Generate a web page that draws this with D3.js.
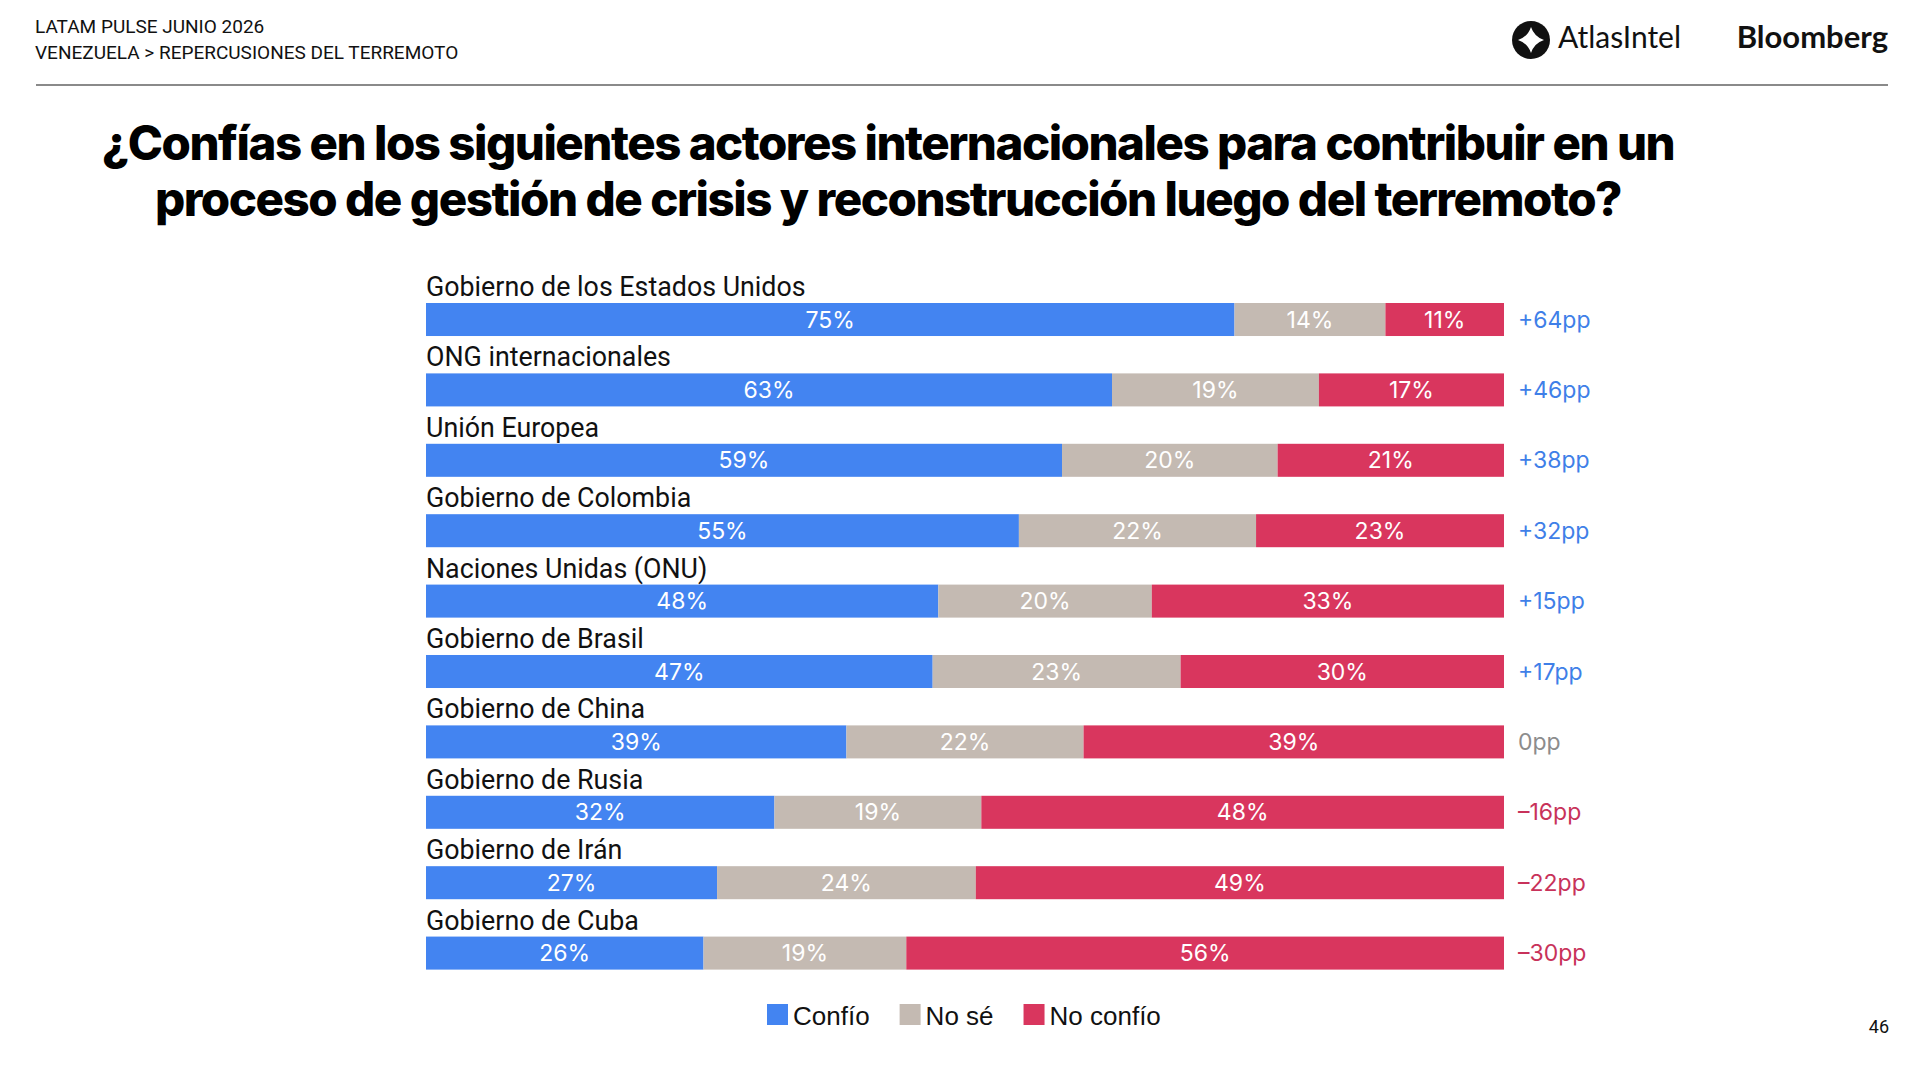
<!DOCTYPE html>
<html>
<head>
<meta charset="utf-8">
<script src="https://cdn.jsdelivr.net/npm/d3@7"></script>
<style>
  body { margin: 0; background: #fff; }
  svg { display: block; }
</style>
</head>
<body>
<div id="wrapper"></div>
<script>
// 1. Data

const categories = [
  "Gobierno de los Estados Unidos",
  "ONG internacionales",
  "Unión Europea",
  "Gobierno de Colombia",
  "Naciones Unidas (ONU)",
  "Gobierno de Brasil",
  "Gobierno de China",
  "Gobierno de Rusia",
  "Gobierno de Irán",
  "Gobierno de Cuba",
]
const confio = [75, 63, 59, 55, 48, 47, 39, 32, 27, 26]
const noSe = [14, 19, 20, 22, 20, 23, 22, 19, 24, 19]
const noConfio = [11, 17, 21, 23, 33, 30, 39, 48, 49, 56]
const netPP = [64, 46, 38, 32, 15, 17, 0, -16, -22, -30]

const seriesNames = ["Confío", "No sé", "No confío"]
const seriesColors = ["#4384f1", "#c4bab2", "#d9365e"]

const titleLines = [
  "¿Confías en los siguientes actores internacionales para contribuir en un",
  "proceso de gestión de crisis y reconstrucción luego del terremoto?",
]

// 2. Dimensions

const dimensions = {
  width: 1920,
  height: 1070,
  barLeft: 426,
  barRight: 1504,
  barTop: 303,
  rowStep: 70.4,
  barHeight: 33,
}

// 3. Canvas

const svg = d3.select("#wrapper")
  .append("svg")
    .attr("width", dimensions.width)
    .attr("height", dimensions.height)

// header
const header = svg.append("g")
  .style("font-family", "Roboto, 'Liberation Sans', sans-serif")
  .style("fill", "#111")
header.append("text")
  .attr("x", 35).attr("y", 33)
  .style("font-size", "19px")
  .text("LATAM PULSE JUNIO 2026")
header.append("text")
  .attr("x", 35).attr("y", 59)
  .style("font-size", "19px")
  .text("VENEZUELA > REPERCUSIONES DEL TERREMOTO")

svg.append("line")
  .attr("x1", 36).attr("x2", 1888)
  .attr("y1", 85).attr("y2", 85)
  .attr("stroke", "#8a8a8a")
  .attr("stroke-width", 2)

// AtlasIntel logo
const logo = svg.append("g").attr("transform", "translate(1531, 40)")
logo.append("circle").attr("r", 19).attr("fill", "#111")
const s = 13, k = 3.2
logo.append("path")
  .attr("fill", "#fff")
  .attr("d", `M0,${-s} Q${k},${-k} ${s},0 Q${k},${k} 0,${s} Q${-k},${k} ${-s},0 Q${-k},${-k} 0,${-s} Z`)
svg.append("text")
  .attr("x", 1558).attr("y", 48)
  .style("font-family", "Lato, 'Open Sans', sans-serif")
  .style("font-size", "30px")
  .style("fill", "#111")
  .text("AtlasIntel")
svg.append("text")
  .attr("x", 1888).attr("y", 48)
  .attr("text-anchor", "end")
  .style("font-family", "Lato, 'Open Sans', sans-serif")
  .style("font-weight", 700)
  .style("font-size", "31px")
  .style("fill", "#111")
  .text("Bloomberg")

// title
const titleWidths = [1582, 1475]
titleLines.forEach((line, i) => {
  const t = svg.append("text")
    .attr("x", 888)
    .attr("y", 160 + i * 56)
    .attr("text-anchor", "middle")
    .style("font-family", "Inter, Roboto, sans-serif")
    .style("font-weight", 800)
    .style("letter-spacing", "-1.5px")
    .style("font-size", "52px")
    .style("fill", "#000")
    .text(line)
  const w = t.node().getComputedTextLength()
  t.style("font-size", `${52 * titleWidths[i] / w}px`)
})

// 4. Scales

const y = d3.scaleBand()
  .domain(categories)
  .range([dimensions.barTop, dimensions.barTop + 9 * dimensions.rowStep + dimensions.barHeight])
  .paddingInner(0.531)
  .paddingOuter(0)

const rows = categories.map((name, i) => {
  const vals = [confio[i], noSe[i], noConfio[i]]
  const total = d3.sum(vals)
  const x = d3.scaleLinear()
    .domain([0, total])
    .range([dimensions.barLeft, dimensions.barRight])
  let acc = 0
  const segs = vals.map((v, j) => {
    const seg = { value: v, x0: x(acc), x1: x(acc + v), color: seriesColors[j] }
    acc += v
    return seg
  })
  return { name, segs, net: netPP[i] }
})

// 5. Draw data

const chart = svg.append("g")

const rowGroups = chart.selectAll("g.row")
  .data(rows)
  .join("g")
    .attr("class", "row")
    .attr("transform", d => `translate(0, ${y(d.name)})`)

rowGroups.append("text")
  .attr("x", dimensions.barLeft)
  .attr("y", -7)
  .style("font-family", "Roboto, sans-serif")
  .style("font-size", "26.8px")
  .style("fill", "#111")
  .text(d => d.name)

rowGroups.selectAll("rect")
  .data(d => d.segs)
  .join("rect")
    .attr("x", d => d.x0)
    .attr("width", d => d.x1 - d.x0)
    .attr("height", y.bandwidth())
    .attr("fill", d => d.color)

rowGroups.selectAll("text.pct")
  .data(d => d.segs)
  .join("text")
    .attr("class", "pct")
    .attr("x", d => (d.x0 + d.x1) / 2)
    .attr("y", y.bandwidth() / 2)
    .attr("dy", "0.35em")
    .attr("text-anchor", "middle")
    .style("font-family", "Inter, Roboto, sans-serif")
    .style("font-size", "23px")
    .style("fill", "#fff")
    .text(d => `${d.value}%`)

rowGroups.append("text")
  .attr("x", dimensions.barRight + 14)
  .attr("y", y.bandwidth() / 2)
  .attr("dy", "0.35em")
  .style("font-family", "Inter, Lato, sans-serif")
  .style("font-size", "23px")
  .style("fill", d => d.net > 0 ? "#3f7fe8" : d.net < 0 ? "#c8325a" : "#8c8c8c")
  .text(d => `${d.net > 0 ? "+" : d.net < 0 ? "\u2013" : ""}${Math.abs(d.net)}pp`)

// 6. Legend

const legend = svg.append("g").attr("transform", "translate(767, 1004)")
let lx = 0
seriesNames.forEach((name, i) => {
  legend.append("rect")
    .attr("x", lx).attr("y", 0)
    .attr("width", 21).attr("height", 21)
    .attr("fill", seriesColors[i])
  const t = legend.append("text")
    .attr("x", lx + 26).attr("y", 21)
    .style("font-family", "'Liberation Sans', Arial, sans-serif")
    .style("font-size", "26px")
    .style("fill", "#111")
    .text(name)
  lx += 26 + t.node().getComputedTextLength() + 30
})

svg.append("text")
  .attr("x", 1889).attr("y", 1033)
  .attr("text-anchor", "end")
  .style("font-family", "Roboto, sans-serif")
  .style("font-size", "18px")
  .style("fill", "#111")
  .text("46")
</script>
</body>
</html>
